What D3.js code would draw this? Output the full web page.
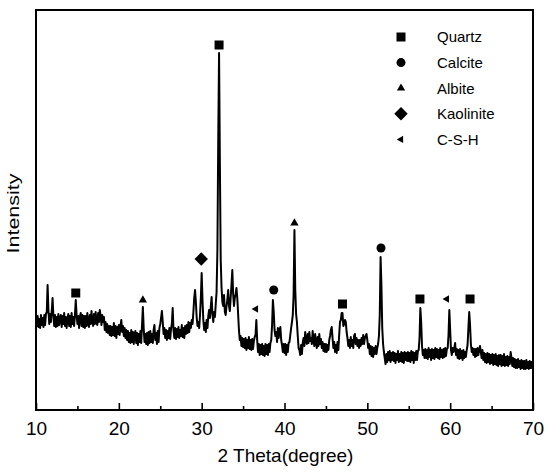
<!DOCTYPE html>
<html><head><meta charset="utf-8">
<script src="https://cdn.jsdelivr.net/npm/d3@7"></script>
<style>body{margin:0;background:#fff}svg{display:block}</style>
</head><body>
<svg id="chart" width="550" height="473"></svg>
<script>
// XRD pattern: intensity (a.u.) sampled every 0.1 degree from 10 to 70 (2 theta)
const thetaStart = 10, thetaStep = 0.1;
const intensity = [
  93, 84, 94, 83, 91, 82, 95, 85, 92, 83,      // 10
  95, 85, 96, 98,125,100, 86, 96, 88, 99,      // 11
 112, 94, 84, 95, 83, 93, 84, 96, 85, 92,      // 12
  95, 83, 94, 86, 97, 84, 93, 82, 92, 96,      // 13
  84, 94, 83, 97, 86, 93, 84, 95,110, 95,      // 14
  86, 94, 82, 93, 97, 84, 95, 83, 94, 82,      // 15
  94, 84, 97, 87, 83, 95, 86, 99, 88, 84,      // 16
  96, 86, 98, 88, 85, 97, 88,100, 94, 85,      // 17
  95, 88, 93, 80, 88, 78, 86, 77, 84, 75,      // 18
  84, 74, 83, 75, 87, 74, 84, 72, 83, 76,      // 19
  85, 75, 84, 90, 78, 84, 74, 82, 72, 80,      // 20
  70, 79, 68, 77, 67, 80, 68, 78, 66, 76,      // 21
  79, 67, 77, 65, 76, 68, 79, 67, 85,103,      // 22
  82, 68, 76, 66, 77, 65, 78, 67, 79, 68,      // 23
  76, 67, 80, 85, 70, 77, 66, 79, 68, 82,      // 24
  86, 92, 99, 88, 76, 82, 72, 80, 70, 79,      // 25
  72, 82, 71, 81, 86,102, 80, 72, 82, 71,      // 26
  81, 73, 83, 72, 80, 74, 85, 73, 82, 72,      // 27
  84, 76, 85, 77, 88, 78, 87, 82, 90, 86,      // 28
  98,112,120,108, 92, 84, 88, 82, 95,112,      // 29
 137,110, 90, 80, 87, 78, 90, 82, 94,100,      // 30
  92,103,113, 96, 88, 98, 93,106,118,160,      // 31
 270,357,245,150,122,108,104,115, 98, 95,      // 32
 104,110,120,104, 99,112,125,140,116,104,      // 33
 112,116,122,112, 96, 80, 70, 74, 64, 72,      // 34
  63, 71, 62, 72, 60, 70, 62, 73, 61, 70,      // 35
  60, 71, 61, 69, 73, 75, 90, 70, 58, 66,      // 36
  55, 65, 56, 66, 55, 64, 54, 66, 56, 65,      // 37
  55, 66, 58, 67, 70, 85,110, 98, 80, 74,      // 38
  78, 68, 82, 72, 80, 83, 70, 65, 58, 66,      // 39
  57, 66, 55, 65, 58, 67, 68, 75, 82, 88,      // 40
  95,115,180,120, 96, 88, 74, 62, 60, 55,      // 41
  65, 56, 67, 72, 64, 78, 69, 66, 76, 67,      // 42
  78, 69, 72, 66, 79, 70, 64, 76, 68, 62,      // 43
  73, 64, 76, 66, 71, 62, 68, 59, 66, 58,      // 44
  66, 58, 65, 60, 70, 74, 80, 83, 72, 62,      // 45
  68, 58, 65, 57, 68, 60, 75, 88, 90, 97,      // 46
  97, 84, 86, 90, 88, 78, 72, 64, 70, 62,      // 47
  73, 64, 70, 62, 74, 76, 66, 72, 64, 70,      // 48
  62, 70, 64, 72, 66, 75, 66, 72, 74, 76,      // 49
  70, 62, 66, 56, 64, 54, 63, 53, 62, 56,      // 50
  64, 56, 62, 66, 74, 95,153,125, 82, 66,      // 51
  58, 52, 46, 56, 48, 58, 50, 59, 48, 57,      // 52
  50, 58, 49, 57, 47, 56, 50, 59, 48, 56,      // 53
  49, 58, 48, 57, 47, 58, 50, 57, 49, 58,      // 54
  49, 57, 48, 59, 50, 58, 47, 57, 50, 59,      // 55
  50, 59, 60, 72,102, 88, 64, 55, 60, 52,      // 56
  61, 52, 60, 51, 62, 53, 60, 50, 61, 52,      // 57
  60, 51, 62, 53, 61, 52, 60, 51, 62, 53,      // 58
  60, 52, 61, 53, 62, 54, 61, 62, 75,100,      // 59
  80, 60, 55, 62, 58, 62, 67, 55, 61, 52,      // 60
  60, 51, 61, 52, 59, 50, 60, 52, 58, 53,      // 61
  60, 65, 82, 98, 85, 66, 58, 62, 55, 61,      // 62
  53, 61, 54, 62, 55, 60, 64, 58, 52, 60,      // 63
  50, 57, 48, 56, 47, 57, 48, 56, 46, 55,      // 64
  47, 56, 45, 55, 46, 56, 45, 54, 44, 55,      // 65
  46, 55, 44, 54, 45, 56, 44, 53, 45, 54,      // 66
  44, 53, 46, 58, 52, 44, 52, 43, 51, 42,      // 67
  50, 42, 51, 43, 49, 41, 50, 42, 49, 41,      // 68
  49, 41, 50, 42, 48, 41, 49, 42, 48, 42,      // 69
  46                                           // 70
];

const xTicks = [10, 20, 30, 40, 50, 60, 70];
const xMinorTicks = [15, 25, 35, 45, 55, 65];

const phases = ["Quartz", "Calcite", "Albite", "Kaolinite", "C-S-H"];
// identified peaks: phase, 2theta of marker, intensity level of marker
const markerPhase = ["Quartz","Quartz","Quartz","Quartz","Quartz","Calcite","Calcite","Albite","Albite","Kaolinite","C-S-H","C-S-H"];
const markerTheta = [14.8, 32.1, 47.0, 56.35, 62.4, 38.7, 51.65, 22.9, 41.2, 29.95, 36.55, 59.6];
const markerLevel = [117, 365, 106, 111, 111, 120, 162, 110, 187, 151, 101, 111];

const W = 550, H = 473;
const margin = {top: 10, right: 17, bottom: 63, left: 36};
const svg = d3.select("#chart");
const font = "'Liberation Sans', Arial, Helvetica, sans-serif";

const x = d3.scaleLinear().domain([10, 70]).range([margin.left, W - margin.right]);
const y = d3.scaleLinear().domain([0, 400]).range([H - margin.bottom, margin.top]);

// trace
const line = d3.line()
  .x((d, i) => x(thetaStart + i * thetaStep))
  .y(d => y(d));
svg.append("path")
  .datum(intensity)
  .attr("d", line)
  .attr("fill", "none")
  .attr("stroke", "#000")
  .attr("stroke-width", 2)
  .attr("stroke-linejoin", "round");

// symbols
const symbolFor = {
  "Quartz":    {type: d3.symbolSquare,   size: 81, rot: 0},
  "Calcite":   {type: d3.symbolCircle,   size: 64, rot: 0},
  "Albite":    {type: d3.symbolTriangle, size: 30, rot: 0},
  "Kaolinite": {type: d3.symbolSquare,   size: 90, rot: 45},
  "C-S-H":     {type: d3.symbolTriangle, size: 24, rot: -90}
};
function sym(p) { return d3.symbol().type(symbolFor[p].type).size(symbolFor[p].size)(); }

svg.append("g").selectAll("path")
  .data(markerPhase.map((p, i) => ({p, t: markerTheta[i], v: markerLevel[i]})))
  .join("path")
  .attr("d", d => sym(d.p))
  .attr("transform", d => `translate(${x(d.t)},${y(d.v)}) rotate(${symbolFor[d.p].rot})`)
  .attr("fill", "#000");

// legend
const legend = svg.append("g").attr("font-family", font).attr("font-size", 15);
phases.forEach((p, i) => {
  const ly = 37 + i * 25.6;
  legend.append("path").attr("d", sym(p))
    .attr("transform", `translate(401,${ly}) rotate(${symbolFor[p].rot})`)
    .attr("fill", "#000");
  legend.append("text").attr("x", 437).attr("y", ly + 5.3).text(p).attr("fill", "#000");
});

// axes ticks (inward)
const axisG = svg.append("g").attr("transform", `translate(0,${H - margin.bottom})`);
axisG.call(d3.axisBottom(x).tickValues(xTicks).tickFormat(d3.format("d"))
  .tickSizeInner(-7).tickSizeOuter(0).tickPadding(11.5));
axisG.select(".domain").remove();
axisG.selectAll(".tick line").attr("stroke", "#000").attr("stroke-width", 1.6);
axisG.selectAll(".tick text").attr("font-family", font).attr("font-size", 19).attr("fill", "#000");

const minorG = svg.append("g").attr("transform", `translate(0,${H - margin.bottom})`);
minorG.call(d3.axisBottom(x).tickValues(xMinorTicks).tickFormat("").tickSizeInner(-4).tickSizeOuter(0));
minorG.select(".domain").remove();
minorG.selectAll(".tick line").attr("stroke", "#000").attr("stroke-width", 1.6);

// frame
svg.append("rect")
  .attr("x", margin.left).attr("y", margin.top)
  .attr("width", W - margin.left - margin.right)
  .attr("height", H - margin.top - margin.bottom)
  .attr("fill", "none").attr("stroke", "#000").attr("stroke-width", 2);

// axis titles
svg.append("text")
  .attr("x", (margin.left + W - margin.right) / 2 + 1).attr("y", 462)
  .attr("text-anchor", "middle").attr("font-family", font).attr("font-size", 19)
  .text("2 Theta(degree)");

svg.append("text")
  .attr("transform", `translate(18.5,${(margin.top + H - margin.bottom) / 2 + 3.5}) rotate(-90)`)
  .attr("text-anchor", "middle").attr("font-family", font).attr("font-size", 16)
  .attr("textLength", 80).attr("lengthAdjust", "spacingAndGlyphs")
  .text("Intensity");
</script>
</body></html>
